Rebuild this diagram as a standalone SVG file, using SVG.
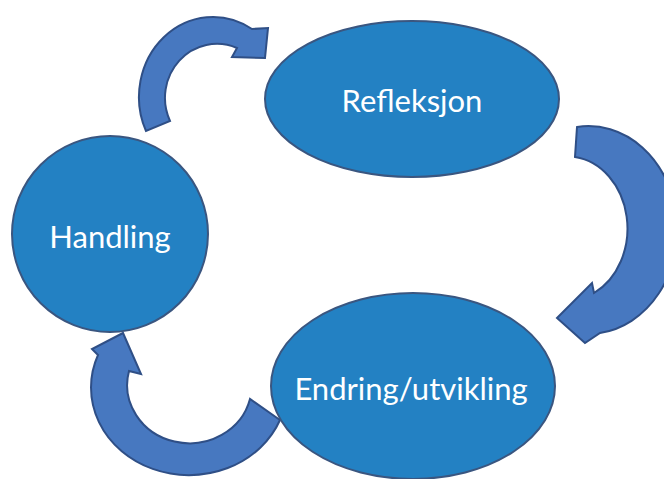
<svg xmlns="http://www.w3.org/2000/svg" width="664" height="479" viewBox="0 0 664 479">
<defs>
<style>
.arrow{fill:#4778c0;stroke:#2f4f86;stroke-width:2;stroke-linejoin:miter}
.node{fill:#2381c3;stroke:#3a5680;stroke-width:2}
.label{fill:#ffffff;font-family:Lato,"Open Sans",sans-serif;font-size:31px;text-anchor:middle}
</style>
</defs>
<rect width="664" height="479" fill="#ffffff"/>
<g id="connectors">
<path class="arrow" d="M146,131 A74,80 0 0 1 252,29 L268,28 L265,58 L232,57 L237,48 A52,54 0 0 0 170,121 Z"/>
<path class="arrow" d="M577,127 A88,103 0 0 1 600,333 L585,343 L557,318 L592,283 L594,293 A60,72 0 0 0 575,157 Z"/>
<path class="arrow" d="M280,420 A95,85 0 0 1 98,355 L92,349 L123,333 L141,374 L129,371 A62,58 0 0 0 250,399 Z"/>
</g>
<g id="handling">
<circle class="node" cx="110" cy="234" r="98"/>
<text class="label" x="110" y="248">Handling</text>
</g>
<g id="refleksjon">
<ellipse class="node" cx="412" cy="99" rx="147" ry="78"/>
<text class="label" x="412" y="112">Refleksjon</text>
</g>
<g id="endring">
<ellipse class="node" cx="413" cy="386" rx="142" ry="93"/>
<text class="label" x="411" y="400">Endring/utvikling</text>
</g>
</svg>
